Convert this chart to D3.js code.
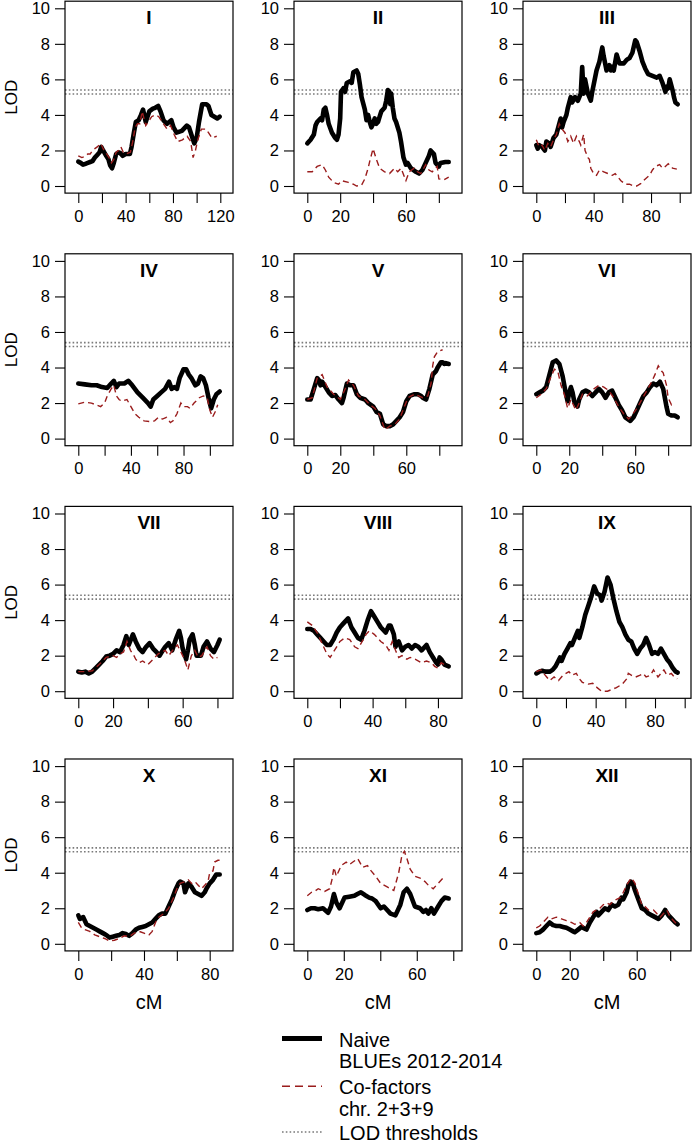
<!DOCTYPE html>
<html><head><meta charset="utf-8">
<script src="https://cdn.jsdelivr.net/npm/d3@7"></script>
<style>html,body{margin:0;padding:0;background:#fff;}svg{display:block;font-family:"Liberation Sans",Arial,Helvetica,sans-serif;}</style>
</head><body><svg id="chart" width="695" height="1144"></svg>
<script>
// ---------- DATA ----------
const chromosomes = ["I","II","III","IV","V","VI","VII","VIII","IX","X","XI","XII"];
const chrLength = [119.5, 86, 98.6, 107.5, 85.7, 85.8, 81.3, 86.6, 95.3, 86.1, 77.5, 84.5];
const yTicks = [0, 2, 4, 6, 8, 10];
const thresholds = [5.18, 5.40];
const xLabelsShown = [[0,40,80,120],[0,20,60],[0,40,80],[0,40,80],[0,20,60],[0,20,60],[0,20,60],[0,40,80],[0,40,80],[0,40,80],[0,20,60],[0,20,60]];
const legendLabels = [["Naive","BLUEs 2012-2014"],["Co-factors","chr. 2+3+9"],["LOD thresholds"]];

const naiveI = [[0,1.37],[2,1.3],[4,1.2],[6,1.25],[8,1.3],[10,1.35],[12,1.4],[14,1.6],[16,1.75],[18,1.9],[19.4,2.2],[21,2.0],[23.6,1.7],[25.5,1.5],[27,1.15],[28.5,1.0],[30,1.3],[32,1.8],[34,1.9],[35.5,1.85],[37.5,1.7],[40,1.8],[43.6,1.8],[45,2.2],[47,3.0],[48.6,3.6],[51,3.7],[53,4.0],[54.7,4.3],[57,3.6],[60,4.2],[63,4.35],[65,4.4],[67.5,4.5],[69.5,4.2],[72,3.7],[75,3.5],[78.6,3.7],[80.5,3.3],[83,3.0],[87.5,3.1],[91.7,3.4],[93.6,3.3],[96,2.8],[98,2.4],[100,2.7],[102,3.6],[104.7,4.6],[108.3,4.6],[110,4.5],[112.5,4.0],[115,3.9],[117.5,3.8],[119.5,3.9]];
const cofI = [[0,1.7],[3,1.6],[5,1.65],[8,1.8],[10,1.8],[12,2.0],[14,2.1],[16,2.2],[19,2.4],[21,2.1],[23,1.9],[26,1.6],[28,1.3],[30,1.5],[32,1.9],[34,2.0],[36,2.2],[38,1.9],[40,1.8],[44,1.9],[46,2.5],[48,3.3],[50,3.5],[52,3.5],[54,4.2],[57,3.4],[60,3.7],[62,3.9],[65,4.0],[68,3.9],[70,3.7],[72,3.5],[75,3.2],[78,3.4],[81,2.9],[84,2.5],[88,2.6],[92,2.8],[95,2.5],[97,1.6],[99,2.0],[101,2.6],[104,3.2],[108,3.2],[110,3.0],[113,2.7],[117,2.8]];

const naiveII = [[0,2.4],[2,2.6],[4,2.9],[5,3.4],[6,3.6],[8,3.8],[9,3.7],[10,4.3],[11,4.4],[12,4.0],[13,3.5],[15,3.0],[17,2.7],[18,2.6],[19,2.9],[20,3.8],[20.5,5.3],[22,5.5],[23,5.3],[24,5.8],[26,5.9],[27,5.8],[28,6.4],[30,6.5],[31,6.3],[32,5.7],[33,5.0],[35,4.3],[36,3.7],[37,4.0],[38,3.6],[39,3.3],[40,3.5],[41,3.8],[42,3.5],[43,3.6],[44,3.9],[45,4.2],[47,4.4],[48,4.8],[49,5.4],[50,5.3],[50.5,4.6],[51,5.2],[52,4.4],[53,3.8],[54,3.6],[56,3.0],[57,2.5],[58.5,1.6],[60,1.2],[61,1.3],[63,1.0],[66,0.8],[68,0.7],[70,0.9],[72,1.3],[74,1.7],[75,2.0],[77,1.8],[78,1.3],[80,1.1],[81,1.3],[84,1.35],[86,1.35]];
const cofII = [[0,0.8],[3,0.8],[6,1.1],[9,1.2],[11,0.9],[13,0.5],[16,0.2],[19,0.1],[21,0.3],[25,0.2],[28,0.1],[30,0.0],[33,0.05],[35,0.4],[37,1.0],[38,1.4],[40,2.1],[42,1.5],[44,1.0],[47,0.8],[50,0.7],[53,1.0],[55,0.8],[57,1.0],[60,0.3],[62,0.8],[65,1.0],[67,0.8],[69,0.7],[72,1.2],[74,0.9],[76,0.8],[78,1.0],[79,1.1],[80,0.4],[83,0.35],[86,0.5]];

const naiveIII = [[0,2.3],[1,2.1],[2,2.3],[4,2.2],[6,2.0],[7,2.5],[9,2.4],[10,2.2],[12,2.7],[14,2.9],[16,3.5],[17,3.8],[18,3.3],[19,3.6],[21,4.0],[22,4.4],[24,5.0],[25,4.7],[27,5.0],[29,4.8],[31,5.2],[32,6.7],[33,5.2],[34,6.0],[36,5.2],[38,4.8],[39,5.3],[40,5.7],[42,6.5],[44,7.0],[46,7.8],[47,7.3],[49,6.5],[51,6.8],[52,6.5],[53,6.7],[54,6.5],[56,7.4],[58,6.9],[61,6.9],[63,7.1],[65,7.2],[67,7.5],[69,8.2],[70,8.1],[72,7.6],[74,7.0],[76,6.6],[78,6.3],[81,6.2],[84,6.1],[86,6.2],[88,5.8],[90,5.3],[91,5.6],[92,5.5],[93,6.0],[95,5.4],[96,5.0],[97,4.7],[98.6,4.6]];
const cofIII = [[0,2.6],[2,2.2],[4,2.3],[6,2.0],[8,2.4],[10,2.2],[12,2.6],[14,2.9],[16,3.5],[18,3.2],[20,3.0],[22,2.5],[24,2.8],[26,2.4],[28,2.8],[30,2.5],[31,2.3],[33,2.9],[34,2.0],[36,1.6],[37,1.5],[38,1.0],[40,0.7],[42,0.6],[44,0.9],[47,0.8],[50,0.7],[53,0.6],[55,0.7],[57,0.5],[59,0.3],[62,0.1],[65,0.1],[68,0.0],[70,0.0],[73,0.15],[76,0.4],[79,0.6],[81,0.9],[83,1.1],[86,1.2],[88,1.0],[90,1.1],[92,1.25],[95,1.0],[98,0.95]];

const naiveIV = [[0,3.1],[5,3.05],[10,3.0],[14,3.0],[18,2.9],[22,2.85],[25,3.1],[27,3.25],[29,2.9],[31,3.1],[35,3.1],[38,3.25],[41,3.0],[45,2.6],[49,2.3],[53,2.0],[55,1.8],[57,2.2],[60,2.4],[63,2.6],[66,2.8],[69,3.2],[71,2.8],[73,2.9],[75,2.8],[77,3.4],[80,3.9],[82,3.9],[84,3.6],[86,3.4],[89,3.0],[91,3.1],[93,3.5],[95,3.4],[97,3.0],[99,2.3],[101,1.7],[103,2.2],[105,2.5],[107.5,2.65]];
const cofIV = [[0,1.95],[5,2.05],[10,2.0],[17,1.8],[20,2.0],[22,2.4],[25,2.8],[27,3.0],[29,2.4],[31,2.2],[33,2.1],[37,2.2],[40,1.8],[43,1.4],[46,1.2],[50,1.0],[55,0.95],[58,1.0],[61,1.2],[64,1.1],[67,1.2],[70,0.9],[72,1.0],[75,1.4],[78,2.0],[80,1.8],[83,1.8],[85,1.7],[88,2.0],[92,2.3],[95,2.4],[98,2.3],[100,1.6],[102,1.2],[104,1.5],[106,1.9]];

const naiveV = [[0,2.2],[2,2.2],[4,2.8],[6,3.4],[7,3.3],[8,3.0],[9,3.2],[11,2.9],[13,2.6],[15,2.4],[17,2.45],[19,2.2],[21,2.0],[22,2.3],[23,2.7],[24,3.1],[26,3.0],[28,3.0],[30,2.5],[32,2.3],[35,2.2],[37,2.0],[40,1.8],[42,1.5],[44,1.4],[46,0.8],[48,0.7],[50,0.7],[52,0.8],[54,1.0],[56,1.2],[58,1.5],[60,2.1],[62,2.4],[65,2.5],[67,2.5],[69,2.4],[70,2.3],[72,2.2],[73,2.5],[74,2.8],[75,3.2],[76,3.6],[78,3.8],[79,4.0],[81,4.3],[82,4.3],[83,4.2],[84,4.25],[85.7,4.2]];
const cofV = [[0,2.2],[3,2.3],[6,3.4],[9,3.6],[12,2.9],[16,2.5],[20,2.2],[23,2.8],[25,3.3],[28,3.0],[31,2.4],[35,2.2],[38,1.9],[41,1.7],[44,1.3],[47,0.5],[50,0.7],[53,0.8],[56,1.1],[58,1.6],[61,2.3],[65,2.5],[70,2.3],[73,2.4],[75,3.1],[76,4.1],[77,4.6],[79,4.9],[82,5.0]];

const naiveVI = [[0,2.5],[2,2.6],[4,2.7],[6,2.9],[8,3.6],[10,4.3],[12,4.4],[14,4.2],[16,3.5],[18,2.5],[19,2.1],[20,2.6],[21,2.9],[22,2.6],[23,2.1],[25,1.8],[26,2.2],[28,2.6],[30,2.7],[32,2.6],[34,2.4],[36,2.6],[38,2.8],[40,2.6],[42,2.3],[44,2.6],[46,2.7],[48,2.3],[50,1.9],[52,1.6],[54,1.2],[57,1.0],[59,1.2],[61,1.6],[63,2.0],[65,2.4],[67,2.6],[69,2.9],[71,3.1],[73,3.0],[75,3.2],[77,2.8],[78,2.3],[79,1.8],[80,1.4],[82,1.3],[84,1.3],[85.8,1.2]];
const cofVI = [[0,2.3],[3,2.5],[6,2.8],[9,3.5],[11,3.9],[13,3.8],[15,3.0],[17,2.5],[19,1.7],[21,2.2],[24,1.6],[26,2.0],[28,2.5],[31,2.4],[35,2.8],[38,3.0],[41,2.9],[44,2.7],[47,2.3],[50,1.8],[53,1.4],[56,1.1],[58,1.3],[61,1.7],[64,2.2],[67,2.7],[70,3.2],[72,3.6],[74,4.1],[76,3.8],[77,3.7],[79,3.0],[80,2.3],[82,1.9],[83,2.0]];

const naiveVII = [[0,1.1],[2,1.05],[4,1.1],[6,1.0],[8,1.1],[10,1.3],[12,1.5],[14,1.7],[16,1.95],[18,2.0],[20,2.1],[22,2.3],[24,2.2],[26,2.6],[27.6,3.1],[29,2.6],[31.4,3.2],[33,2.8],[35,2.4],[37,2.2],[39,2.5],[41,2.7],[43,2.4],[45,2.2],[46.7,2.0],[48,2.2],[50,2.5],[52,2.7],[54,2.3],[56,2.9],[58,3.4],[59,3.0],[60,2.4],[62,1.8],[63,2.3],[64,2.9],[65.7,3.2],[67,2.6],[68,2.0],[70.5,2.0],[72,2.5],[74,2.8],[76,2.4],[78,2.2],[80,2.6],[81.3,2.9]];
const cofVII = [[0,1.1],[4,1.1],[8,1.15],[12,1.5],[16,1.9],[20,2.0],[22,1.9],[24,2.1],[26,2.2],[28,2.8],[30,2.3],[32,2.0],[33,1.8],[35,1.6],[37,1.7],[40,1.5],[43,1.8],[46,2.1],[50,2.3],[52,2.0],[55,2.4],[57,2.6],[59,2.2],[61,1.8],[63,1.2],[65,2.0],[67,2.3],[69,1.9],[71,2.0],[74,2.5],[76,2.0],[78,1.8],[80,1.9]];

const naiveVIII = [[0,3.5],[2,3.5],[4,3.4],[6,3.2],[8,3.0],[10,2.8],[12,2.6],[14,2.6],[16,2.9],[18,3.3],[20,3.6],[22,3.8],[25,4.1],[27,3.6],[29,3.3],[31,3.0],[33,2.9],[35,3.4],[37,4.0],[39,4.5],[41,4.2],[43,3.9],[45,3.6],[47,3.4],[48,3.3],[50,3.7],[51,3.7],[53,3.2],[54,2.5],[55,2.7],[56,2.8],[58,2.3],[60,2.5],[62,2.6],[64,2.4],[66,2.6],[68,2.5],[70,2.3],[72,2.5],[73,2.6],[75,2.2],[77,1.9],[79,1.6],[80,1.5],[81,1.9],[82,1.8],[84,1.5],[86.6,1.4]];
const cofVIII = [[0,3.9],[3,3.7],[6,3.3],[9,2.7],[12,2.1],[14,1.9],[16,2.2],[18,2.5],[20,2.8],[23,3.0],[26,2.9],[29,2.5],[31,2.4],[33,2.7],[36,3.2],[38,3.4],[41,3.2],[43,3.0],[45,2.8],[48,2.6],[50,2.3],[52,2.8],[54,2.3],[56,1.9],[58,2.0],[61,1.8],[63,1.9],[66,1.8],[70,1.6],[73,1.7],[76,1.6],[78,1.4],[80,1.3],[82,1.6],[84,1.5]];

const naiveIX = [[0,1.0],[2,1.1],[4,1.15],[6,1.1],[9,1.1],[11,1.2],[13,1.4],[16,1.9],[17,1.7],[19,2.1],[21,2.4],[23,2.7],[24,2.6],[26,3.0],[28,3.4],[29,3.0],[31,3.6],[33,4.3],[35,4.8],[37,5.3],[39,5.9],[41,5.5],[43,5.4],[44,5.1],[46,5.6],[48,6.4],[50,6.0],[52,5.2],[54,4.5],[56,3.9],[58,3.6],[60,3.2],[62,2.9],[64,2.8],[66,2.4],[68,2.1],[70,2.4],[72,2.6],[74,3.0],[76,2.6],[78,2.1],[80,2.2],[82,2.1],[84,2.4],[86,2.1],[88,1.8],[90,1.6],[92,1.3],[94,1.1],[95.3,1.05]];
const cofIX = [[0,1.1],[3,1.2],[5,1.0],[7,0.8],[9,0.6],[12,0.8],[15,0.6],[18,0.9],[22,1.1],[24,0.9],[27,1.0],[29,0.7],[31,0.5],[35,0.4],[38,0.45],[41,0.2],[44,0.0],[48,0.0],[51,0.1],[54,0.2],[58,0.4],[61,0.7],[62,1.0],[64,0.9],[67,0.8],[70,0.9],[72,1.0],[74,0.8],[77,0.9],[79,1.2],[82,0.8],[84,1.0],[86,1.2],[88,0.9],[91,1.0],[93,0.8],[95,0.7]];

const naiveX = [[0,1.6],[1,1.4],[3,1.5],[4,1.3],[5,1.1],[7,1.0],[9,0.9],[11,0.8],[13,0.7],[15,0.6],[17,0.5],[19,0.35],[21,0.4],[23,0.45],[25,0.5],[27,0.6],[29,0.55],[30,0.5],[31,0.45],[33,0.6],[35,0.8],[37,0.9],[39,0.95],[41,1.0],[43,1.1],[45,1.2],[47,1.4],[49,1.6],[51,1.7],[53,1.7],[55,2.1],[57,2.5],[59,3.0],[61,3.4],[62,3.5],[64,3.4],[65,2.9],[67,3.4],[69,3.2],[71,2.9],[73,2.8],[75,2.7],[77,2.9],[78,3.1],[80,3.4],[82,3.6],[84,3.9],[86.1,3.9]];
const cofX = [[0,1.2],[2,0.9],[4,0.8],[7,0.7],[10,0.5],[13,0.4],[16,0.3],[19,0.15],[22,0.2],[25,0.3],[28,0.45],[31,0.4],[34,0.6],[37,0.7],[40,0.6],[43,0.5],[45,0.7],[47,1.2],[49,1.5],[52,1.7],[55,2.0],[58,2.6],[60,3.1],[62,3.4],[65,3.5],[67,3.6],[69,3.4],[71,3.5],[73,3.3],[75,3.1],[77,3.3],[79,3.5],[80,4.0],[82,4.1],[83,4.6],[85,4.7],[86,4.7]];

const naiveXI = [[0,1.9],[2,2.0],[4,2.0],[6,1.95],[8.6,2.0],[11.4,1.75],[13,2.1],[14.6,2.8],[16,2.3],[17.7,2.0],[20.4,2.6],[23,2.65],[25.8,2.7],[27.5,2.8],[29.4,2.9],[31.5,2.75],[33.9,2.6],[35.5,2.55],[37.5,2.4],[40.2,2.0],[42,2.1],[45.6,1.7],[48.3,1.6],[51,2.2],[52.8,2.9],[54.6,3.1],[56.4,2.8],[59,2.1],[61.8,2.0],[63.6,1.8],[65,1.9],[66.3,1.7],[68,2.0],[69.4,1.7],[71.7,2.1],[73.5,2.4],[75.3,2.6],[77.5,2.55]];
const cofXI = [[0,2.7],[2.3,2.9],[4,2.95],[6,3.1],[9.5,2.95],[12.3,3.1],[13.5,3.6],[14.6,4.3],[15.9,3.8],[18.6,4.4],[21.3,4.6],[23,4.45],[25,4.6],[27.6,4.8],[30.3,4.3],[33,4.4],[35,4.1],[37.5,3.8],[40.2,3.4],[43.8,3.2],[47.4,3.0],[50.1,4.0],[51.9,5.0],[53.2,5.2],[54.6,4.8],[56.4,4.2],[59,3.8],[61.8,3.7],[64.5,3.5],[66.3,3.3],[69,3.1],[71.7,3.4],[74.4,3.7]];

const naiveXII = [[0,0.6],[2,0.65],[4,0.8],[6,1.0],[8,1.2],[10,1.05],[12,1.0],[14,1.0],[16,0.95],[18,0.9],[20,0.8],[22,0.7],[23,0.65],[25,0.8],[27,0.95],[29,0.85],[30,0.8],[32,1.2],[34,1.5],[36,1.8],[37,1.6],[39,1.8],[41,2.0],[43,1.9],[45,2.2],[47,2.1],[49,2.2],[51,2.6],[52,2.5],[54,2.9],[55,3.3],[56.5,3.5],[58,3.3],[59,3.0],[61,2.5],[63,2.0],[65,1.9],[67,1.7],[69,1.6],[71,1.5],[73,1.4],[75,1.6],[77,1.9],[79,1.6],[81,1.4],[83,1.2],[84.5,1.1]];
const cofXII = [[0,0.9],[2,1.0],[4,1.2],[7,1.5],[9,1.4],[12,1.5],[15,1.4],[18,1.3],[21,1.2],[23,1.1],[26,1.2],[28,1.0],[30,1.2],[32,1.5],[34,1.8],[36,1.9],[38,2.0],[40,2.2],[42,2.3],[44,2.2],[46,2.4],[48,2.5],[50,2.6],[52,2.9],[54,3.3],[56,3.6],[57,3.7],[59,3.4],[61,2.8],[63,2.2],[65,2.1],[67,1.9],[70,1.9],[72,1.7],[74,1.5],[76,1.7],[78,1.9],[80,1.5],[82,1.3],[84,1.1]];

const naiveSeries = [naiveI,naiveII,naiveIII,naiveIV,naiveV,naiveVI,naiveVII,naiveVIII,naiveIX,naiveX,naiveXI,naiveXII];
const cofSeries = [cofI,cofII,cofIII,cofIV,cofV,cofVI,cofVII,cofVIII,cofIX,cofX,cofXI,cofXII];

// ---------- LAYOUT / STYLE ----------
const colLeft = [65, 294, 523];
const boxW = 168;
const rowZero = [186, 438.6, 691.2, 943.8];
const pxPerLOD = 17.77;
const FONT = '"Liberation Sans",Arial,Helvetica,sans-serif';
const naiveColor = "#000", cofColor = "#9a1c1c", thrColor = "#7a7a7a";

const svg = d3.select("#chart");

chromosomes.forEach((chr, i) => {
  const col = i % 3, row = Math.floor(i / 3);
  const L = chrLength[i];
  const left = colLeft[col], right = left + boxW;
  const zero = rowZero[row];
  const y = d3.scaleLinear().domain([-0.4, 10.4]).range([zero + 0.4*pxPerLOD, zero - 10.4*pxPerLOD]);
  const x = d3.scaleLinear().domain([-0.094*L, 1.094*L]).range([left, right]);
  const top = y(10.4), bottom = y(-0.4);
  const g = svg.append("g");

  const clipId = "clip" + i;
  g.append("clipPath").attr("id", clipId).append("rect")
    .attr("x", left).attr("y", top).attr("width", right-left).attr("height", bottom-top);

  // thresholds
  g.selectAll(".thr").data(thresholds).join("line")
    .attr("x1", left).attr("x2", right).attr("y1", d => y(d)).attr("y2", d => y(d))
    .attr("stroke", thrColor).attr("stroke-width", 1.6).attr("stroke-dasharray", "1.6,2.2");

  const line = d3.line().x(d => x(d[0])).y(d => y(d[1])).curve(d3.curveLinear);
  const plot = g.append("g").attr("clip-path", `url(#${clipId})`);
  plot.append("path").datum(naiveSeries[i]).attr("d", line)
    .attr("fill", "none").attr("stroke", naiveColor).attr("stroke-width", 4.6)
    .attr("stroke-linejoin", "round").attr("stroke-linecap", "round");
  plot.append("path").datum(cofSeries[i]).attr("d", line)
    .attr("fill", "none").attr("stroke", cofColor).attr("stroke-width", 1.4)
    .attr("stroke-dasharray", "6,4");

  // box
  g.append("rect").attr("x", left).attr("y", top).attr("width", right-left).attr("height", bottom-top)
    .attr("fill", "none").attr("stroke", "#000").attr("stroke-width", 1.2);

  // y axis
  const yAxis = d3.axisLeft(y).tickValues(yTicks).tickSize(10).tickPadding(5).tickFormat(d3.format("d"));
  const ya = g.append("g").attr("transform", `translate(${left},0)`).call(yAxis);
  ya.select(".domain").remove();
  ya.selectAll("line").attr("stroke", "#000").attr("stroke-width", 1.1);
  ya.selectAll("text").attr("font-size", 16.5).attr("font-family", FONT).attr("fill", "#000");

  // x axis
  const xt = d3.range(0, 1.094*L, 20);
  const shown = xLabelsShown[i];
  const xAxis = d3.axisBottom(x).tickValues(xt).tickSize(10).tickPadding(7)
    .tickFormat(d => shown.includes(d) ? d3.format("d")(d) : "");
  const xa = g.append("g").attr("transform", `translate(0,${bottom})`).call(xAxis);
  xa.select(".domain").remove();
  xa.selectAll("line").attr("stroke", "#000").attr("stroke-width", 1.1);
  xa.selectAll("text").attr("font-size", 16.5).attr("font-family", FONT).attr("fill", "#000");

  // title
  g.append("text").attr("x", (left+right)/2).attr("y", top + 23).attr("text-anchor", "middle")
    .attr("font-weight", "bold").attr("font-size", 19).attr("font-family", FONT).text(chr);

  if (col === 0) {
    g.append("text").attr("transform", `translate(17,${(top+bottom)/2}) rotate(-90)`)
      .attr("text-anchor", "middle").attr("font-size", 17).attr("font-family", FONT).text("LOD");
  }
  if (row === 3) {
    g.append("text").attr("x", (left+right)/2).attr("y", bottom + 58).attr("text-anchor", "middle")
      .attr("font-size", 20).attr("font-family", FONT).text("cM");
  }
});

// ---------- LEGEND ----------
const lg = svg.append("g");
const lx1 = 282, lx2 = 322, tx = 339;
const legendY = [1046.5, 1094.3, 1140];
const lineSpacing = 21.7;
const legendStyles = [
  {stroke: naiveColor, width: 5, dash: null},
  {stroke: cofColor, width: 1.5, dash: "8,5"},
  {stroke: thrColor, width: 1.6, dash: "1.6,2.2"}
];
legendLabels.forEach((lines, k) => {
  const by = legendY[k];
  const st = legendStyles[k];
  lg.append("line").attr("x1", lx1).attr("x2", lx2).attr("y1", by - 8).attr("y2", by - 8)
    .attr("stroke", st.stroke).attr("stroke-width", st.width)
    .attr("stroke-dasharray", st.dash);
  lines.forEach((t, j) => {
    lg.append("text").attr("x", tx).attr("y", by + j*lineSpacing)
      .attr("font-size", 20).attr("font-family", FONT).text(t);
  });
});
</script>
</body></html>
